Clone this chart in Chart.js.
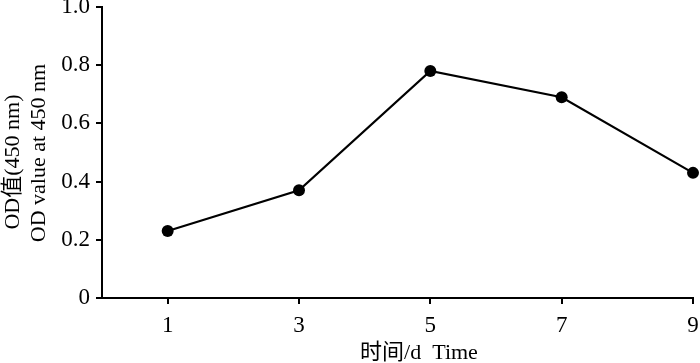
<!DOCTYPE html>
<html>
<head>
<meta charset="utf-8">
<script src="https://cdn.jsdelivr.net/npm/chart.js@4/dist/chart.umd.min.js"></script>
<style>
html,body{margin:0;padding:0;background:#fff;}
#wrap{width:700px;height:363px;position:relative;}
</style>
</head>
<body>
<div id="wrap"><canvas id="c" width="700" height="363"></canvas></div>
<script>
const days = [1, 3, 5, 7, 9];
const odValues = [0.23, 0.37, 0.78, 0.69, 0.43];
const yTicks = [0, 0.2, 0.4, 0.6, 0.8, 1.0];
const xTitle = '时间/d  Time';
const yTitleLines = ['OD值(450 nm)', 'OD value at 450 nm'];

const FONT = "'Liberation Serif', 'Times New Roman', 'Noto Sans CJK SC', serif";

const titlePlugin = {
  id: 'axisTitles',
  afterDraw(chart) {
    const ctx = chart.ctx;
    const a = chart.chartArea;
    ctx.save();
    ctx.fillStyle = '#000';
    ctx.font = "22px " + FONT;
    ctx.textBaseline = 'alphabetic';
    ctx.textAlign = 'center';
    ctx.fillText(xTitle, a.left + 317, a.bottom + 61);
    const centers = [162, 153];
    const xs = [19, 45];
    yTitleLines.forEach((t, i) => {
      ctx.save();
      ctx.translate(xs[i], centers[i]);
      ctx.rotate(-Math.PI / 2);
      ctx.textAlign = 'center';
      ctx.fillText(t, 0, 0);
      ctx.restore();
    });
    ctx.restore();
  }
};

new Chart(document.getElementById('c'), {
  type: 'line',
  data: {
    datasets: [{
      data: days.map((d, i) => ({ x: d, y: odValues[i] })),
      borderColor: '#000',
      backgroundColor: '#000',
      borderWidth: 2.2,
      pointRadius: 6,
      pointBackgroundColor: '#000',
      pointBorderColor: '#000',
      pointBorderWidth: 0,
      tension: 0,
      clip: false
    }]
  },
  options: {
    responsive: false,
    animation: false,
    events: [],
    layout: { padding: { top: 7, right: 7, left: 0, bottom: 0 } },
    plugins: { legend: { display: false }, tooltip: { enabled: false }, title: { display: false } },
    scales: {
      x: {
        type: 'linear',
        min: 0,
        max: 9,
        afterBuildTicks: s => { s.ticks = days.map(v => ({ value: v })); },
        afterFit: s => { s.height = 65; s.paddingLeft = 0; s.paddingRight = 0; },
        border: { display: true, color: '#000', width: 2 },
        grid: { display: true, drawOnChartArea: false, drawTicks: true, tickLength: 6, color: '#000', lineWidth: 2 },
        ticks: { color: '#000', font: { family: FONT, size: 23 }, padding: 8, maxRotation: 0, autoSkip: false }
      },
      y: {
        type: 'linear',
        min: 0,
        max: 1,
        afterBuildTicks: s => { s.ticks = yTicks.map(v => ({ value: v })); },
        afterFit: s => { s.width = 102; s.paddingTop = 0; s.paddingBottom = 0; },
        border: { display: true, color: '#000', width: 2 },
        grid: { display: true, drawOnChartArea: false, drawTicks: true, tickLength: 6, color: '#000', lineWidth: 2 },
        ticks: {
          color: '#000', font: { family: FONT, size: 23 }, padding: 6,
          callback: v => (v === 0 ? '0' : v.toFixed(1))
        }
      }
    }
  },
  plugins: [titlePlugin]
});
</script>
</body>
</html>
